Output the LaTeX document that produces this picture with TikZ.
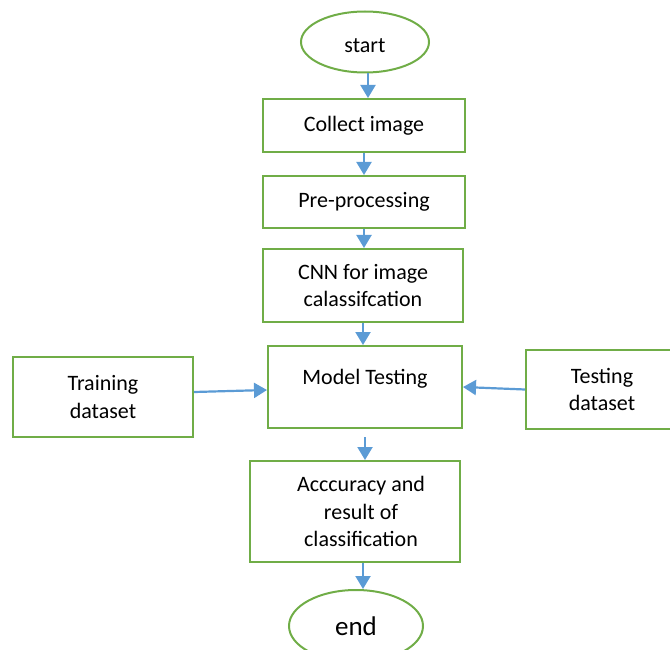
\documentclass[tikz,border=0pt]{standalone}
\usepackage{fontspec}
\setmainfont{Carlito}
\usetikzlibrary{shapes.geometric,arrows.meta}

\definecolor{boxgreen}{RGB}{112,173,71}
\definecolor{arrowblue}{RGB}{91,155,213}

\def\xMin{0}
\def\xMax{670}
\def\yMin{-650}
\def\yMax{0}

\begin{document}
\begin{tikzpicture}[x=1pt, y=1pt,
    stepbox/.style={draw=boxgreen, line width=2pt, align=center, inner sep=0pt,
        font=\fontsize{22}{27.5}\selectfont},
    term/.style={ellipse, draw=boxgreen, line width=2pt, inner sep=0pt},
    flow/.style={draw=arrowblue, line width=2.2pt, -{Triangle[width=15pt,length=13pt]}}]
        \useasboundingbox (\xMin,\yMin) rectangle (\xMax,\yMax);
        \node[term, minimum width=128, minimum height=61, text height=22pt, font=\fontsize{22}{27.5}\selectfont] (start) at (365,-42) {start};
        \node[stepbox, minimum width=202, minimum height=53] (collect) at (364,-125.5) {Collect image};
        \node[stepbox, minimum width=202, minimum height=52] (prep) at (364,-202) {Pre-processing};
        \node[stepbox, minimum width=200, minimum height=73] (cnn) at (363,-285.5) {CNN for image\\calassifcation};
        \node[stepbox, minimum width=194, minimum height=82, text depth=21pt] (model) at (365,-387) {Model Testing};
        \node[stepbox, minimum width=180, minimum height=80] (training) at (103,-397) {Training\\dataset};
        \node[stepbox, minimum width=152, minimum height=79] (testing) at (602,-389.5) {Testing\\dataset};
        \node[stepbox, minimum width=210, minimum height=101] (result) at (355,-511.5) {\hspace*{12pt}Acccuracy and\\\hspace*{12pt}result of\\\hspace*{12pt}classification};
        \node[term, minimum width=134, minimum height=72, font=\fontsize{27}{32}\selectfont] (end) at (356,-626) {end};
        \draw[flow] ([xshift=3pt]start.south) -- ([xshift=3pt]start.south |- collect.north);
        \draw[flow] (collect.south) -- (collect.south |- prep.north);
        \draw[flow] (prep.south) -- (prep.south |- cnn.north);
        \draw[flow] (cnn.south) -- (cnn.south |- model.north);
        \draw[flow] ([yshift=5pt]training.east) -- ([yshift=-3pt]model.west);
        \draw[flow] (testing.west) -- (model.east);
        \draw[flow] ([yshift=-8pt]model.south) -- (model.south |- result.north);
        \draw[flow] ([xshift=8pt]result.south) -- ([xshift=8pt]result.south |- end.north);
      \end{tikzpicture}
\end{document}
